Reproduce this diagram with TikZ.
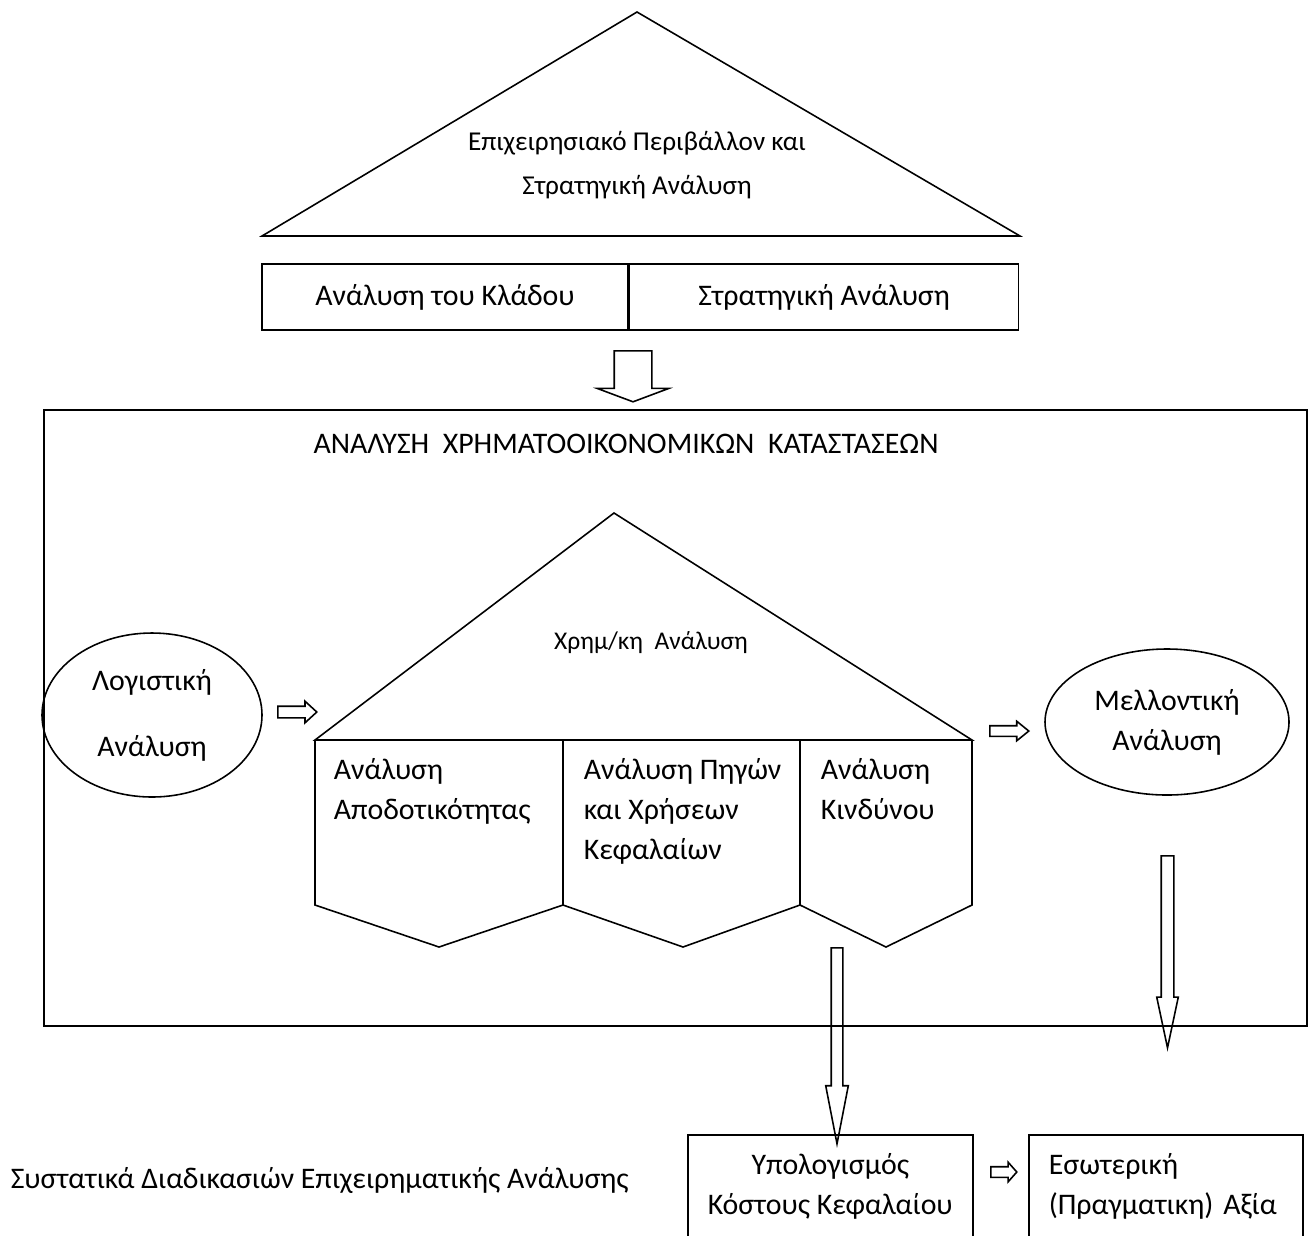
\documentclass[tikz,border=0pt]{standalone}
\usepackage{fontspec}
\setmainfont{Carlito}
\usetikzlibrary{shapes.geometric,shapes.arrows}

\begin{document}
\begin{tikzpicture}[x=0.2mm, y=-0.2mm, line width=0.9pt,
    cell/.style={rectangle, draw, inner sep=0pt, font=\fontsize{17}{22.8}\selectfont},
    lbl/.style={inner sep=0pt, font=\fontsize{17}{22.8}\selectfont, align=left},
    oval/.style={ellipse, draw, inner sep=0pt, font=\fontsize{17}{22.8}\selectfont, align=center},
    fat/.style n args={5}{single arrow, draw, inner sep=0pt, inner ysep=#1, single arrow head extend=#2, single arrow tip angle=#3, minimum height=#4, rotate=#5, anchor=tail}
]
    % Cadre
    \clip (0,0) rectangle (1314,1235);

    % Triangle du haut
    \draw (262,236) -- (637,12) -- (1020,236) -- cycle;
    \node[lbl, align=center, font=\fontsize{15.5}{25}\selectfont] (env) at (637,165) {Επιχειρησιακό Περιβάλλον και\\Στρατηγική Ανάλυση};

    \node[cell, minimum width=73.2mm, minimum height=13.2mm] (klados) at (445,297) {Ανάλυση του Κλάδου};
    \node[cell, minimum width=77.8mm, minimum height=13.2mm, anchor=west] (strat) at (klados.east) {Στρατηγική Ανάλυση};
    \node[fat={3.6mm}{3.4mm}{139}{10.2mm}{-90}] (a1) at (633,350) {};

    % Cadre principal
    \node[draw, inner sep=0pt, minimum width=252.6mm, minimum height=123.2mm, anchor=north west] (fsa) at (43,409) {};
    \node[lbl] (title) at (626,444) {ΑΝΑΛΥΣΗ\ \ ΧΡΗΜΑΤΟΟΙΚΟΝΟΜΙΚΩΝ\ \ ΚΑΤΑΣΤΑΣΕΩΝ};

    % Maison
    \coordinate (r1) at (315,740);
    \coordinate (roof) at (614,513);
    \coordinate (r2) at (972,740);
    \draw (r1) -- (roof) -- (r2) -- cycle;
    \draw (r1) -- (315,905) -- (439,947) -- (563,905) -- (683,947) -- (800,905) -- (886,947) -- (972,905) -- (r2);
    \draw (563,740) -- (563,905) (800,740) -- (800,905);
    \node[lbl, font=\fontsize{14.5}{22.8}\selectfont] (chrem) at (651,643) {Χρημ/κη\ \ Ανάλυση};
    \node[lbl, anchor=north west] (apod) at (333,758) {Ανάλυση\\Αποδοτικότητας};
    \node[lbl, anchor=north west] (pigon) at (583,758) {Ανάλυση Πηγών\\και Χρήσεων\\Κεφαλαίων};
    \node[lbl, anchor=north west] (kind) at (820,758) {Ανάλυση\\Κινδύνου};

    % Ellipses
    \node[oval, minimum width=44mm, minimum height=32.8mm, font=\fontsize{17}{37.6}\selectfont] (logist) at (152,715) {Λογιστική\\Ανάλυση};
    \node[oval, minimum width=48.8mm, minimum height=29.2mm] (mellon) at (1167,722) {Μελλοντική\\Ανάλυση};

    % Fl\`eches
    \node[fat={1mm}{1mm}{85}{7.8mm}{0}] (a2) at (277,712) {};
    \node[fat={0.9mm}{0.9mm}{78}{7.8mm}{0}] (a3) at (989,731) {};
    \node[fat={1mm}{1.1mm}{22}{39.2mm}{-90}] (a4) at (837,947) {};
    \node[fat={1.1mm}{0.9mm}{24}{38.4mm}{-90}] (a5) at (1167.5,855) {};
    \node[fat={0.9mm}{0.9mm}{97}{5.2mm}{0}] (a6) at (990,1172) {};

    % Bas
    \node[cell, align=center, minimum width=57mm, minimum height=20.8mm, anchor=north west] (kostos) at (687,1134) {Υπολογισμός\\Κόστους Κεφαλαίου};
    \node[cell, align=left, text width=46.8mm, inner xsep=4mm, minimum height=20.8mm, anchor=north west] (axia) at (1028,1134) {Εσωτερική\\(Πραγματικη) Αξία};
    \node[lbl, anchor=west] (caption) at (10,1180) {Συστατικά Διαδικασιών Επιχειρηματικής Ανάλυσης};
\end{tikzpicture}
\end{document}
